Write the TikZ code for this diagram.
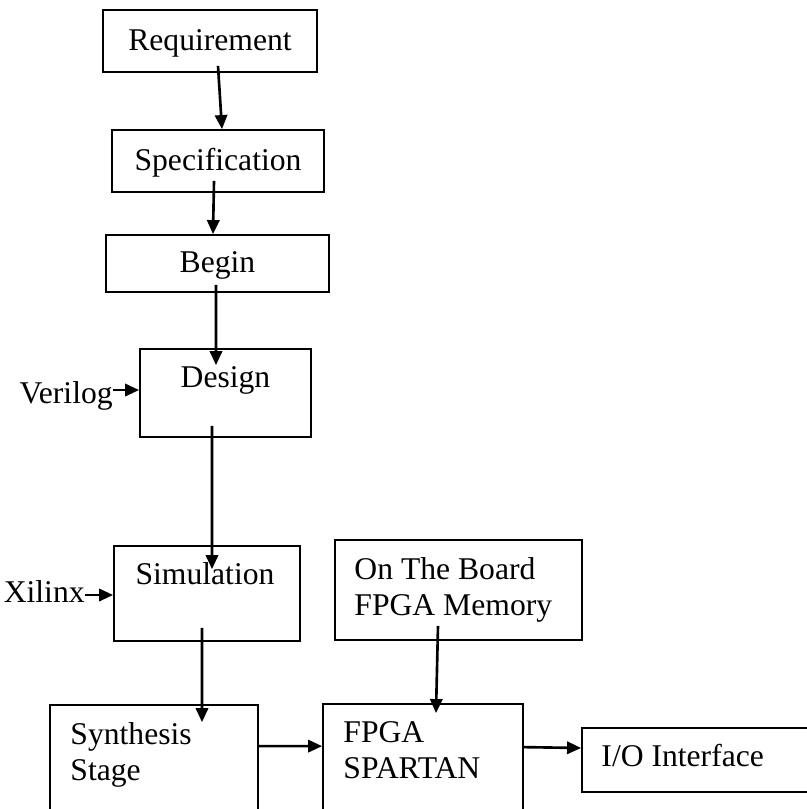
\documentclass[tikz,border=0pt]{standalone}
\usepackage{fontspec}
\setmainfont{Liberation Serif}
\usepackage{tikz}
\usetikzlibrary{shapes,arrows.meta,positioning,calc}

\tikzset{
	blk/.style={draw, rectangle, line width=1pt, inner sep=0pt, text height=12.6pt, text depth=1.8pt, font=\fontsize{18}{20.5}\selectfont},
	txt/.style={inner sep=0pt, font=\fontsize{18}{20.5}\selectfont},
	conn/.style={line width=1.5pt, -{Triangle[length=8pt,width=7pt]}}
}

\begin{document}
\begin{tikzpicture}
				\useasboundingbox (0,0) rectangle (16.14,-16.18);
				% Main flow
				\node[blk, minimum width=4.28cm, minimum height=1.24cm] (req) at (4.20,-0.82) {Requirement};
				\node[blk, minimum width=4.24cm, minimum height=1.24cm] (spec) at (4.36,-3.22) {Specification};
				\node[blk, minimum width=4.46cm, minimum height=1.14cm] (begin) at (4.35,-5.27) {Begin};
				\node[blk, minimum width=3.42cm, minimum height=1.76cm] (design) at (4.51,-7.86) {};
				\node[txt, anchor=base] (designtxt) at ([yshift=-0.78cm]design.north) {Design};
				\node[blk, minimum width=3.72cm, minimum height=1.90cm] (sim) at (4.14,-11.87) {};
				\node[txt, anchor=base] (simtxt) at ([xshift=-0.04cm,yshift=-0.78cm]sim.north) {Simulation};
				
				% Tools
				\node[txt, anchor=base east] (verilog) at (2.26,-8.06) {Verilog};
				\node[txt, anchor=base east] (xilinx) at (1.70,-12.04) {Xilinx};
				
				% Hardware stage
				\node[blk, minimum width=4.94cm, minimum height=2.00cm] (mem) at (9.17,-11.80) {};
				\node[txt, align=left, anchor=north west] (memtxt) at ([xshift=0.4cm,yshift=-0.36cm]mem.north west) {On The Board\\FPGA Memory};
				\node[blk, minimum width=4.16cm, minimum height=2.50cm] (synth) at (3.08,-15.35) {};
				\node[txt, align=left, anchor=north west] (synthtxt) at ([xshift=0.42cm,yshift=-0.36cm]synth.north west) {Synthesis\\Stage};
				\node[blk, minimum width=4.00cm, minimum height=2.52cm] (fpga) at (8.46,-15.34) {};
				\node[txt, align=left, anchor=north west] (fpgatxt) at ([xshift=0.42cm,yshift=-0.36cm]fpga.north west) {FPGA\\SPARTAN};
				\node[blk, minimum width=5.16cm, minimum height=1.28cm] (io) at (14.22,-15.20) {};
				\node[txt, anchor=base west] (iotxt) at ([xshift=0.4cm,yshift=-0.12cm]io.west) {I/O Interface};
				
				% Connections
				\draw[conn] ([xshift=0.16cm,yshift=0.14cm]req.south) -- ([xshift=0.08cm]spec.north);
				\draw[conn] ([xshift=-0.08cm,yshift=0.24cm]spec.south) -- ([xshift=-0.09cm]begin.north);
				\draw[conn] ([xshift=-0.03cm,yshift=0.16cm]begin.south) -- ([xshift=-0.19cm,yshift=-0.34cm]design.north);
				\draw[conn] ([xshift=-0.27cm,yshift=0.24cm]design.south) -- ([xshift=0.10cm,yshift=-0.48cm]sim.north);
				\draw[conn] ([xshift=-0.10cm,yshift=0.28cm]sim.south) -- ([xshift=0.96cm,yshift=-0.36cm]synth.north);
				\draw[conn] ([xshift=-0.41cm,yshift=0.30cm]mem.south) -- ([xshift=0.26cm,yshift=-0.20cm]fpga.north);
				\draw[conn] ([yshift=-0.84cm]synth.north east) -- ([yshift=-0.86cm]fpga.north west);
				\draw[conn] ([yshift=-0.88cm]fpga.north east) -- ([yshift=0.24cm]io.west);
				\draw[conn] ([yshift=0.26cm]verilog.base east) -- ([yshift=0.26cm]verilog.base east -| design.west);
				\draw[conn] ([yshift=0.14cm]xilinx.base east) -- ([yshift=0.14cm]xilinx.base east -| sim.west);
\end{tikzpicture}
\end{document}
